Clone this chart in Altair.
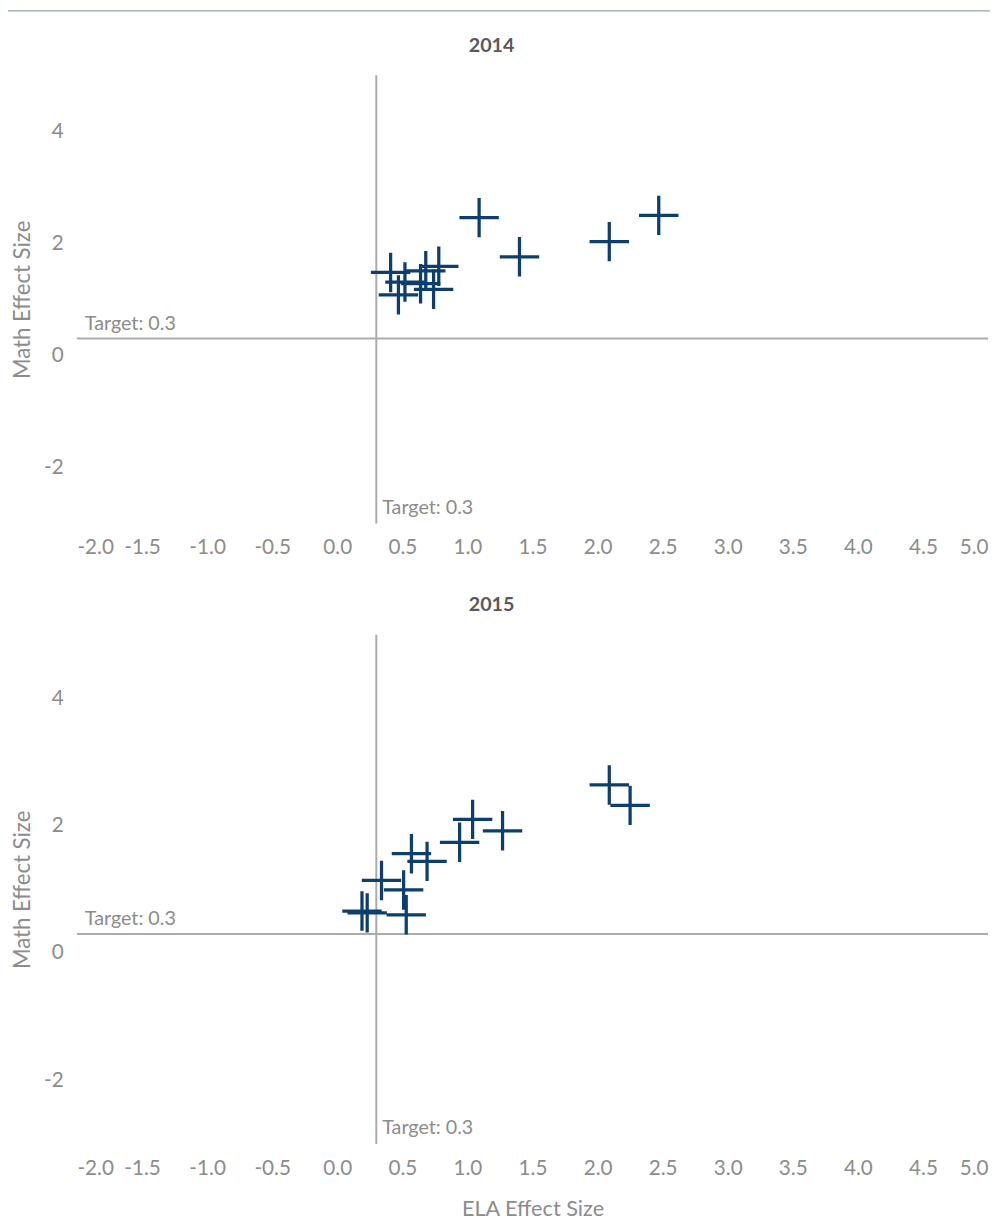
import altair as alt
import pandas as pd

# ---- data ----
ela_2014 = [2.09, 2.47, 1.09, 1.40, 0.41, 0.78, 0.52, 0.47, 0.74, 0.68, 0.64]
math_2014 = [2.03, 2.50, 2.46, 1.76, 1.48, 1.59, 1.31, 1.08, 1.18, 1.51, 1.28]
ela_2015 = [1.04, 1.27, 0.94, 0.57, 0.69, 0.34, 0.51, 0.53, 0.19, 0.23, 2.09, 2.25]
math_2015 = [2.10, 1.92, 1.74, 1.56, 1.44, 1.14, 0.99, 0.60, 0.66, 0.63, 2.64, 2.32]
target = 0.3
target_label = "Target: 0.3"
x_ticks = [-2.0, -1.5, -1.0, -0.5, 0.0, 0.5, 1.0, 1.5, 2.0, 2.5, 3.0, 3.5, 4.0, 4.5, 5.0]
y_ticks = [-2, 0, 2, 4]
x_domain = [-2, 5]
y_domain = [-3, 5]

FONT = "Lato"
GRAY_TXT = "#8c8c8c"
LINE_GRAY = "#ababab"
MARK_COL = "#0c3f6f"
PLUS = "M-1,0L1,0M0,-1L0,1"
W = 925
PAD = {"left": 0, "right": 0, "top": -7, "bottom": 0}


def panel(year, ela, math, height, show_xtitle, top_rule):
    df = pd.DataFrame({"ela": ela, "math": math})
    x_axis = alt.Axis(
        values=x_ticks,
        labelExpr="datum.value < 0 ? '-' + format(-datum.value, '.1f') : format(datum.value, '.1f')",
        labelFlush=True,
        labelPadding=14,
        domain=False, ticks=False, grid=False,
        labelFont=FONT, labelFontSize=21, labelColor=GRAY_TXT,
        titleFont=FONT, titleFontSize=22, titleColor=GRAY_TXT,
        titleFontWeight="normal", titlePadding=21,
    )
    y_axis = alt.Axis(
        values=y_ticks,
        labelExpr="datum.value < 0 ? '-' + format(-datum.value, 'd') : format(datum.value, 'd')",
        labelPadding=14,
        domain=False, ticks=False, grid=False,
        labelFont=FONT, labelFontSize=21, labelColor=GRAY_TXT,
        titleFont=FONT, titleFontSize=22.5, titleColor=GRAY_TXT,
        titleFontWeight="normal", titlePadding=9,
    )
    xs = alt.Scale(domain=x_domain, nice=False, zero=False)
    ys = alt.Scale(domain=y_domain, nice=False, zero=False)

    pts = alt.Chart(df).mark_point(
        shape=PLUS, filled=False, strokeWidth=3.3, size=1600,
        opacity=1, color=MARK_COL, strokeCap="butt",
    ).encode(
        x=alt.X("ela:Q", scale=xs, axis=x_axis,
                title="ELA Effect Size" if show_xtitle else None),
        y=alt.Y("math:Q", scale=ys, axis=y_axis, title="Math Effect Size"),
    )

    one = alt.Data(values=[{"t": target, "lab": target_label, "year": str(year)}])
    hrule = alt.Chart(one).mark_rule(color=LINE_GRAY, strokeWidth=2).encode(
        y=alt.Y("t:Q", scale=ys))
    vrule = alt.Chart(one).mark_rule(color=LINE_GRAY, strokeWidth=2).encode(
        x=alt.X("t:Q", scale=xs))
    htext = alt.Chart(one).mark_text(
        align="left", baseline="bottom", dy=-5, font=FONT, fontSize=20,
        color=GRAY_TXT,
    ).encode(x=alt.value(8), y=alt.Y("t:Q", scale=ys), text="lab:N")
    vtext = alt.Chart(one).mark_text(
        align="left", baseline="middle", dx=6, font=FONT, fontSize=20,
        color=GRAY_TXT,
    ).encode(x=alt.X("t:Q", scale=xs), y=alt.value(height - 16), text="lab:N")
    ttext = alt.Chart(one).mark_text(
        align="center", baseline="middle", font=FONT, fontSize=20,
        fontWeight="bold", color="#595959",
    ).encode(x=alt.value(421), y=alt.value(-30), text="year:N")

    layers = [vrule, hrule, pts, htext, vtext, ttext]
    if top_rule:
        top = alt.Chart(alt.Data(values=[{}])).mark_rect(
            color="#8ea0b8", strokeWidth=0).encode(
            x=alt.value(-70), x2=alt.value(W + 2),
            y=alt.value(-66), y2=alt.value(-64.8))
        layers.append(top)

    return alt.layer(*layers).properties(width=W, height=height)


p1 = panel(2014, ela_2014, math_2014, 455, False, True)
p2 = panel(2015, ela_2015, math_2015, 517, True, False)

chart = alt.vconcat(p1, p2, spacing=38).properties(
    padding=PAD, autosize=alt.AutoSizeParams(type="pad")
).configure(padding=PAD).configure_view(stroke=None)

chart.save("out.html", embed_options={"renderer": "svg", "actions": False})
